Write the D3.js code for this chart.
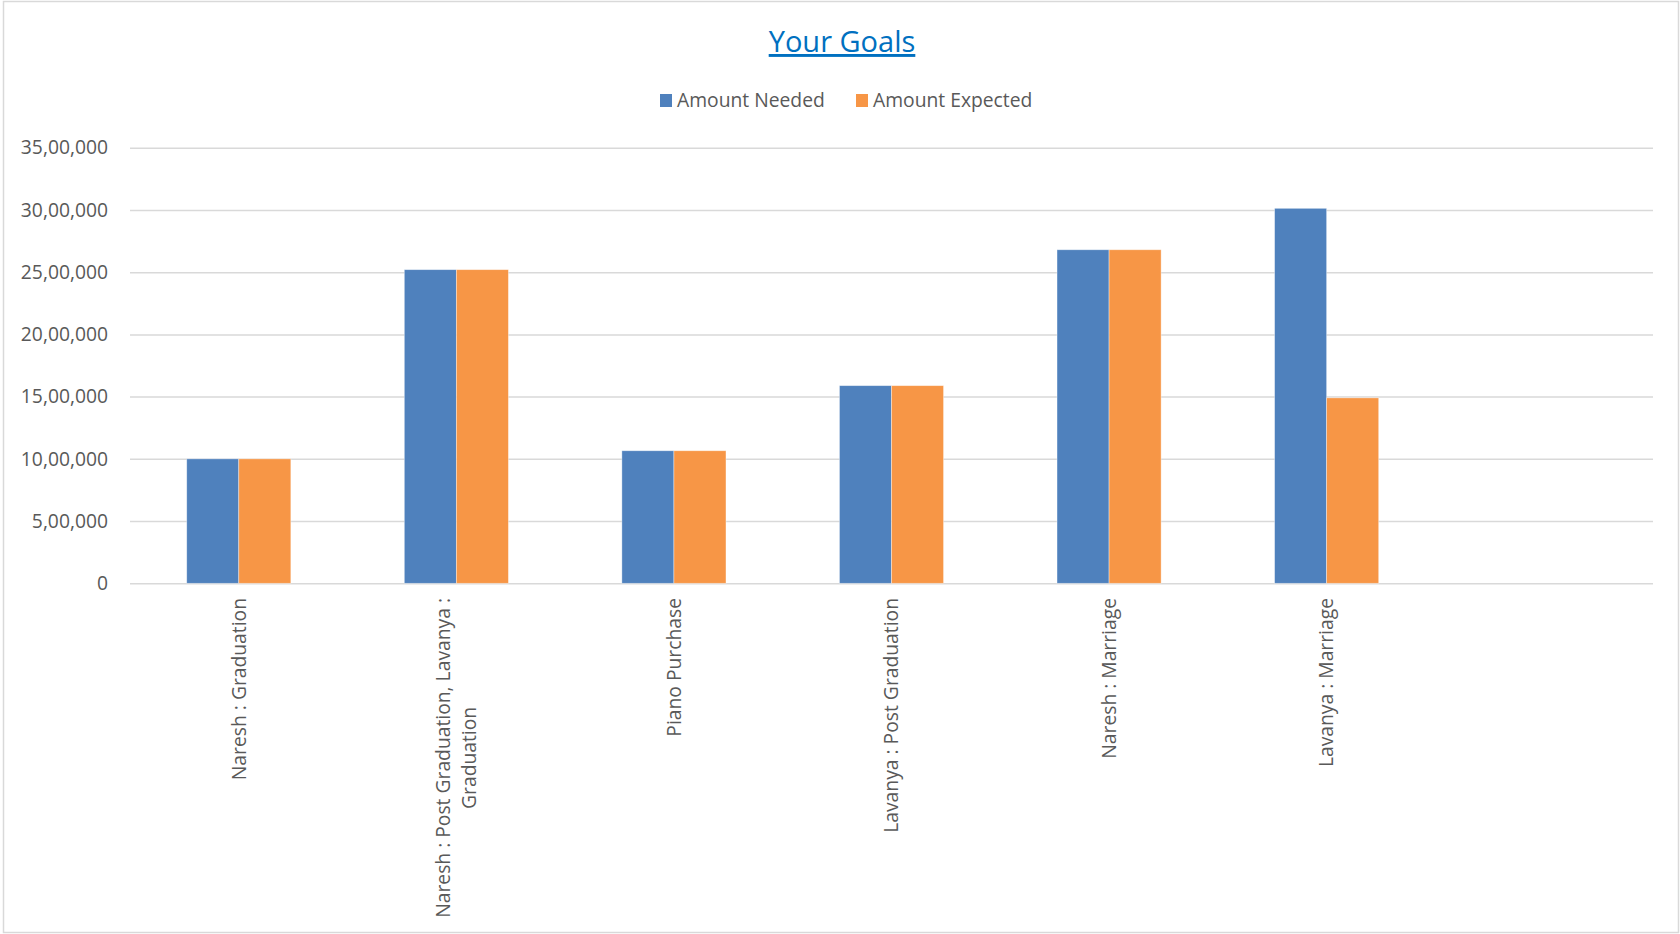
<!DOCTYPE html>
<html>
<head>
<meta charset="utf-8">
<script src="https://cdn.jsdelivr.net/npm/d3@7"></script>
<style>
  html, body { margin: 0; padding: 0; background: #fff; }
  svg { display: block; font-family: "Open Sans", sans-serif; }
</style>
</head>
<body>
<script>
// Chart data
var categories = [
  'Naresh : Graduation',
  'Naresh : Post Graduation, Lavanya : Graduation',
  'Piano Purchase',
  'Lavanya : Post Graduation',
  'Naresh : Marriage',
  'Lavanya : Marriage',
  '' // empty slot at the end of the axis
];
var seriesNames = ['Amount Needed', 'Amount Expected'];
var amountNeeded = [1000000, 2520000, 1065000, 1588000, 2680000, 3013000, null];
var amountExpected = [1000000, 2520000, 1065000, 1588000, 2680000, 1490000, null];
var yTicks = [0, 500000, 1000000, 1500000, 2000000, 2500000, 3000000, 3500000];
var colors = ['#4F81BD', '#F79646'];

var W = 1680, H = 934;
var plot = { left: 130, right: 1653, top: 147.7, bottom: 583.3 };
var fontPx = '19.3px';

// indian digit grouping: 35,00,000
function inr(v) {
  var s = String(Math.round(v));
  if (s.length <= 3) return s;
  var last3 = s.slice(-3), rest = s.slice(0, -3);
  return rest.replace(/\B(?=(\d{2})+(?!\d))/g, ',') + ',' + last3;
}

var svg = d3.select('body').append('svg')
  .attr('width', W)
  .attr('height', H);

// outer frame
svg.append('rect')
  .attr('x', 3.5).attr('y', 1.5)
  .attr('width', W - 5).attr('height', H - 3)
  .attr('fill', '#fff')
  .attr('stroke', '#d9d9d9')
  .attr('stroke-width', 1.5);

var x = d3.scaleBand()
  .domain(d3.range(categories.length))
  .range([plot.left, plot.right]);

var xSub = d3.scaleBand()
  .domain(seriesNames)
  .range([0, x.bandwidth()])
  .paddingOuter(1.09);

var y = d3.scaleLinear()
  .domain([0, 3500000])
  .range([plot.bottom, plot.top]);

// y axis + gridlines
var yAxis = svg.append('g')
  .attr('transform', 'translate(' + plot.left + ',0)')
  .call(d3.axisLeft(y)
    .tickValues(yTicks)
    .tickFormat(inr)
    .tickSize(-(plot.right - plot.left))
    .tickPadding(22));
yAxis.select('.domain').remove();
yAxis.selectAll('.tick line')
  .attr('stroke', '#d9d9d9')
  .attr('stroke-width', 1.5);
yAxis.selectAll('.tick text')
  .attr('fill', '#595959')
  .style('font-size', fontPx)
  .style('font-family', '"Open Sans", sans-serif');

// bars
var rows = categories.map(function(c, i) {
  return { i: i, vals: [amountNeeded[i], amountExpected[i]] };
});

var groups = svg.selectAll('.grp')
  .data(rows)
  .enter()
  .append('g')
  .attr('class', 'grp')
  .attr('transform', function(d) { return 'translate(' + x(d.i) + ',0)'; });

groups.selectAll('rect')
  .data(function(d) {
    return seriesNames.map(function(s, k) { return { s: s, k: k, v: d.vals[k] }; })
      .filter(function(b) { return b.v != null; });
  })
  .enter()
  .append('rect')
  .attr('x', function(b) { return xSub(b.s); })
  .attr('width', xSub.bandwidth())
  .attr('y', function(b) { return y(b.v); })
  .attr('height', function(b) { return y(0) - y(b.v); })
  .attr('fill', function(b) { return colors[b.k]; })
  .attr('stroke', '#fff')
  .attr('stroke-opacity', 0.5)
  .attr('stroke-width', 0.75);

// x labels, rotated, wrapped like excel does
var maxLen = 335, lineGap = 26.7, labelTop = 598;

var labels = svg.selectAll('.xlab')
  .data(rows)
  .enter()
  .append('text')
  .attr('class', 'xlab')
  .attr('transform', function(d) {
    return 'translate(' + (x(d.i) + x.bandwidth() / 2) + ',' + labelTop + ') rotate(-90)';
  })
  .attr('fill', '#595959')
  .style('font-size', fontPx)
  .attr('text-anchor', 'middle');

labels.each(function(d) {
  var t = d3.select(this);
  var words = categories[d.i].split(' ');
  var lines = [], cur = [];
  var probe = t.append('tspan');
  words.forEach(function(w) {
    var test = cur.concat([w]).join(' ');
    probe.text(test);
    if (probe.node().getComputedTextLength() > maxLen && cur.length) {
      lines.push(cur.join(' '));
      cur = [w];
    } else {
      cur.push(w);
    }
  });
  if (cur.length) lines.push(cur.join(' '));
  var longest = 0;
  lines.forEach(function(l) {
    probe.text(l);
    longest = Math.max(longest, probe.node().getComputedTextLength());
  });
  probe.remove();
  lines.forEach(function(l, k) {
    t.append('tspan')
      .attr('x', -longest / 2)
      .attr('y', (k - (lines.length - 1) / 2) * lineGap)
      .attr('dy', '0.35em')
      .text(l);
  });
});

// title
svg.append('text')
  .attr('x', 842)
  .attr('y', 52)
  .attr('text-anchor', 'middle')
  .attr('fill', '#0070C0')
  .style('font-size', '29px')
  .style('text-decoration', 'underline')
  .text('Your Goals');

// legend
var legend = svg.append('g');
var legX = [660, 856];
seriesNames.forEach(function(s, k) {
  var g = legend.append('g').attr('transform', 'translate(' + legX[k] + ',0)');
  g.append('rect')
    .attr('x', 0).attr('y', 94)
    .attr('width', 12).attr('height', 13)
    .attr('fill', colors[k]);
  g.append('text')
    .attr('x', 17).attr('y', 107)
    .attr('fill', '#595959')
    .style('font-size', fontPx)
    .text(s);
});
</script>
</body>
</html>
